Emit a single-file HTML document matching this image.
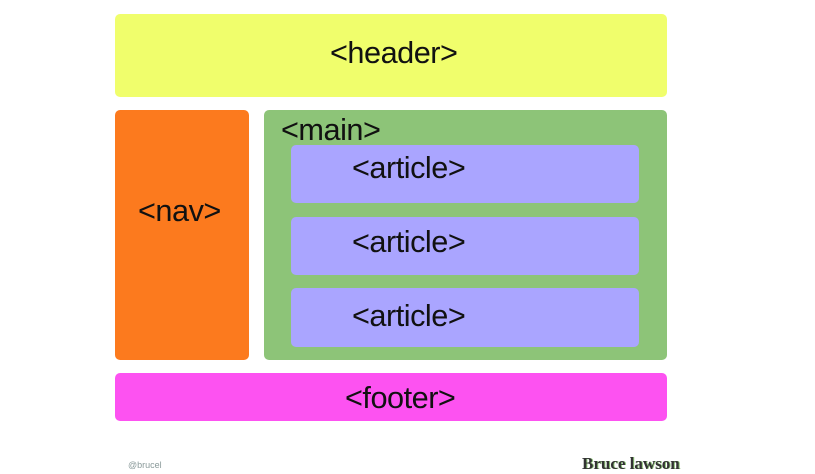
<!DOCTYPE html>
<html><head><style>
body{margin:0;width:815px;height:474px;background:#fff;position:relative;overflow:hidden;font-family:"Liberation Sans",sans-serif}
.b{position:absolute;border-radius:5px}
.t{position:absolute;font-size:31px;color:#111;white-space:nowrap;transform:scaleX(0.99);transform-origin:left top;letter-spacing:-0.5px}
</style></head><body>
<div class="b" style="left:115px;top:14px;width:552px;height:83px;background:#f0fe6c"></div>
<div class="t" style="left:330px;top:35px">&lt;header&gt;</div>
<div class="b" style="left:115px;top:110px;width:134px;height:250px;background:#fc7a1e"></div>
<div class="t" style="left:138px;top:193px">&lt;nav&gt;</div>
<div class="b" style="left:264px;top:110px;width:403px;height:250px;background:#8dc478"></div>
<div class="t" style="left:281px;top:112px">&lt;main&gt;</div>
<div class="b" style="left:291px;top:145px;width:348px;height:58px;background:#aaa5ff"></div>
<div class="t" style="left:352px;top:150px">&lt;article&gt;</div>
<div class="b" style="left:291px;top:217px;width:348px;height:58px;background:#aaa5ff"></div>
<div class="t" style="left:352px;top:224px">&lt;article&gt;</div>
<div class="b" style="left:291px;top:288px;width:348px;height:59px;background:#aaa5ff"></div>
<div class="t" style="left:352px;top:298px">&lt;article&gt;</div>
<div class="b" style="left:115px;top:373px;width:552px;height:48px;background:#fd52f1"></div>
<div class="t" style="left:345px;top:380px">&lt;footer&gt;</div>
<div style="position:absolute;left:128px;top:460px;font-size:9px;color:#8a9a9a">@brucel</div>
<div style="position:absolute;left:582px;top:454px;font-size:17px;font-weight:bold;color:#333;font-family:'Liberation Serif',serif;letter-spacing:0px;text-shadow:1px 0 #8dc478">Bruce lawson</div>
</body></html>
